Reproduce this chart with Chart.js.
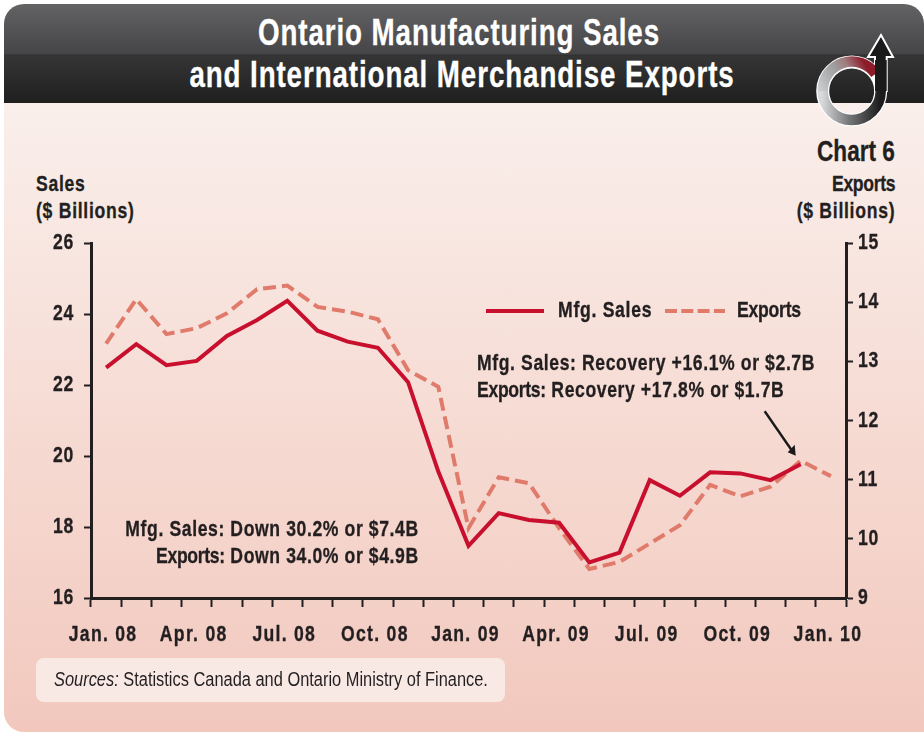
<!DOCTYPE html>
<html><head><meta charset="utf-8">
<script src="https://cdn.jsdelivr.net/npm/chart.js@4"></script>
<style>
html,body{margin:0;padding:0;background:#fff;width:924px;height:732px;overflow:hidden}
body{position:relative;font-family:"Liberation Sans",sans-serif;color:#231f20}
#panel{position:absolute;left:4px;top:4px;width:920px;height:728px;border-radius:20px 20px 0 20px;overflow:hidden;
background:linear-gradient(#faefeb 99px,#f2c8bd 100%)}
#head{position:absolute;left:0;top:0;width:100%;height:99px;background:linear-gradient(#636365 0,#454547 50px,#2f2f30 51px,#353536 52px,#1f1f20 100%)}
#c{position:absolute;left:0;top:0}
.t{position:absolute;white-space:nowrap;font-weight:700;transform:scaleX(.8);transform-origin:0 0;-webkit-text-stroke:.3px currentColor}
.tr{transform-origin:100% 0;text-align:right}
.ttl{color:#fff;font-size:37px;letter-spacing:1.2px;transform:translateX(-50%) scaleX(.75);transform-origin:50% 0}
.ax{font-size:22px;letter-spacing:.9px;line-height:27px}
.note{font-size:22px;letter-spacing:.75px;line-height:27px}
.ex{letter-spacing:-.4px}
#src{position:absolute;left:36px;top:658px;width:469px;height:44px;border-radius:8px;background:#f9e9e5}
#src span{position:absolute;left:18px;top:0;font-size:20px;line-height:42px;white-space:nowrap;transform:scaleX(.82);transform-origin:0 0}
svg{position:absolute;left:780px;top:0}
</style></head><body>
<div id="panel"><div id="head"></div></div>
<div class="t ttl" style="top:12px;left:459px">Ontario Manufacturing Sales</div>
<div class="t ttl" style="top:54px;left:462px">and International Merchandise Exports</div>
<svg width="144" height="140" viewBox="780 0 144 140">
<defs><linearGradient id="r" gradientUnits="userSpaceOnUse" x1="818" y1="100" x2="878" y2="66"><stop offset="0" stop-color="#d8d9da"/><stop offset=".42" stop-color="#a0a1a3"/><stop offset=".62" stop-color="#a07c7e"/><stop offset=".85" stop-color="#8c1c2a"/></linearGradient>
<linearGradient id="b" gradientUnits="userSpaceOnUse" x1="822" y1="91" x2="881" y2="91"><stop offset="0" stop-color="#d8d9da"/><stop offset=".45" stop-color="#77787a"/><stop offset="1" stop-color="#1a1a1a"/></linearGradient></defs>
<circle cx="851.7" cy="91" r="29" fill="none" stroke="#fff" stroke-width="13"/>
<path d="M875 91 L875 57 L868 57 L881 35 L893 57 L886.7 57 L886.7 91 Z" fill="#1a1a1a" stroke="#fff" stroke-width="2"/>
<path d="M875.5 74 A29 29 0 0 0 822.7 91" fill="none" stroke="url(#r)" stroke-width="10.5"/>
<path d="M822.7 91 A29 29 0 0 0 880.7 91" fill="none" stroke="url(#b)" stroke-width="10.5"/>
<rect x="875" y="60" width="11.7" height="31" fill="#1a1a1a"/>
</svg>
<div class="t tr" style="right:29px;top:135px;font-size:29px;transform:scaleX(.78)">Chart 6</div>
<div class="t ax" style="left:36px;top:170px">Sales<br>($ Billions)</div>
<div class="t ax tr" style="right:29px;top:170px"><span class="ex">Exports</span><br>($ Billions)</div>
<canvas id="c" width="924" height="732"></canvas>
<div class="t note" style="left:477px;top:349px">Mfg. Sales: Recovery +16.1% or $2.7B<br><span class="ex">Exports:</span> Recovery +17.8% or $1.7B</div>
<div class="t note tr" style="right:505px;top:515px">Mfg. Sales: Down 30.2% or $7.4B<br><span class="ex">Exports:</span> Down 34.0% or $4.9B</div>
<div id="src"><span><i>Sources:</i> Statistics Canada and Ontario Ministry of Finance.</span></div>
<script>
const categories=["Jan. 08","Feb. 08","Mar. 08","Apr. 08","May 08","Jun. 08","Jul. 08","Aug. 08","Sep. 08","Oct. 08","Nov. 08","Dec. 08","Jan. 09","Feb. 09","Mar. 09","Apr. 09","May 09","Jun. 09","Jul. 09","Aug. 09","Sep. 09","Oct. 09","Nov. 09","Dec. 09","Jan. 10"];
const salesValues=[22.49,23.15,22.56,22.68,23.38,23.83,24.37,23.53,23.22,23.05,22.08,19.56,17.47,18.39,18.2,18.12,17.0,17.28,19.32,18.88,19.54,19.51,19.32,19.77,null];
const exportValues=[13.30,14.05,13.46,13.56,13.81,14.22,14.28,13.92,13.84,13.71,12.85,12.57,10.18,11.04,10.94,10.18,9.49,9.61,9.92,10.23,10.91,10.72,10.88,11.32,11.06];
const salesTicks=[16,18,20,22,24,26];
const exportTicks=[9,10,11,12,13,14,15];
const labelEvery=3;
const ink="#231f20",red="#c8102e",salmon="#e07b6c";
const fontTick={family:'"Liberation Sans",sans-serif',size:22,weight:'700'};
const narrow=.8;
const canvas=document.getElementById('c');
const rawCtx=canvas.getContext('2d');
const rawFill=rawCtx.fillText.bind(rawCtx);
const rawStroke=rawCtx.strokeText.bind(rawCtx);
rawCtx.fillText=function(t,x,y){
 const s=String(t);
 rawCtx.save();rawCtx.translate(x,y);rawCtx.scale(narrow,1);
 rawCtx.letterSpacing=/^\w+\. \d\d$/.test(s)?'1.6px':(s==='Exports'?'-0.3px':'0.9px');
 rawCtx.strokeStyle=rawCtx.fillStyle;rawCtx.lineWidth=.35;rawCtx.setLineDash([]);
 rawFill(s,0,0);rawStroke(s,0,0);rawCtx.restore();};
const extras={id:'extras',
 afterDraw(ch){const c=ch.ctx,x=ch.scales.x,y=ch.scales.yR;
  const px=x.getPixelForValue(23),py=y.getPixelForValue(exportValues[23]);
  const x0=px-36,y0=py-49.5,x1=px-5,y1=py-5;
  c.save();c.strokeStyle="#1a1a1a";c.fillStyle="#1a1a1a";c.lineWidth=2.4;
  c.beginPath();c.moveTo(x0,y0);c.lineTo(x1-3,y1-4);c.stroke();
  c.beginPath();c.moveTo(x1,y1);c.lineTo(x1-8,y1-3.5);c.lineTo(x1-1,y1-11);c.closePath();c.fill();
  const ly=311;
  c.lineWidth=4;c.lineCap='butt';c.strokeStyle=red;c.beginPath();c.moveTo(486,ly);c.lineTo(544,ly);c.stroke();
  c.strokeStyle=salmon;c.setLineDash([12,4.3]);c.beginPath();c.moveTo(665,ly);c.lineTo(725,ly);c.stroke();c.setLineDash([]);
  c.fillStyle=ink;c.font='700 22px "Liberation Sans"';c.textBaseline='middle';c.textAlign='left';
  c.fillText('Mfg. Sales',558,ly);c.fillText('Exports',737,ly);
  c.restore();
 }};
new Chart(canvas,{type:'line',
 data:{labels:categories,datasets:[
  {label:'Exports',data:exportValues,yAxisID:'yR',borderColor:salmon,borderWidth:4,borderDash:[13,6],pointRadius:0,tension:0,order:2},
  {label:'Mfg. Sales',data:salesValues,yAxisID:'y',borderColor:red,borderWidth:4,pointRadius:0,tension:0,order:1}]},
 plugins:[extras],
 options:{responsive:false,animation:false,
  layout:{padding:{top:243,left:0,right:0,bottom:0}},
  plugins:{legend:{display:false},title:{display:false},tooltip:{enabled:false}},
  scales:{
   x:{type:'category',offset:true,afterFit(s){s.height=134;},
    border:{color:ink,width:3},
    grid:{offset:true,drawOnChartArea:false,drawTicks:true,tickLength:9,tickColor:ink,tickWidth:2},
    ticks:{autoSkip:false,maxRotation:0,minRotation:0,color:ink,font:fontTick,padding:15,labelOffset:-3,
     callback(v,i){return i%labelEvery===0?this.getLabelForValue(v):'';}}},
   y:{position:'left',min:16,max:26,afterFit(s){s.width=91;},
    afterBuildTicks(s){s.ticks=salesTicks.map(value=>({value}));},
    border:{color:ink,width:3},
    grid:{drawOnChartArea:false,tickLength:7,tickColor:ink,tickWidth:2},
    ticks:{color:ink,font:fontTick,padding:10}},
   yR:{position:'right',min:9,max:15,afterFit(s){s.width=78;},
    afterBuildTicks(s){s.ticks=exportTicks.map(value=>({value}));},
    border:{color:ink,width:3},
    grid:{drawOnChartArea:false,tickLength:7,tickColor:ink,tickWidth:2},
    ticks:{color:ink,font:fontTick,padding:5}}
  }}});
</script>
</body></html>
